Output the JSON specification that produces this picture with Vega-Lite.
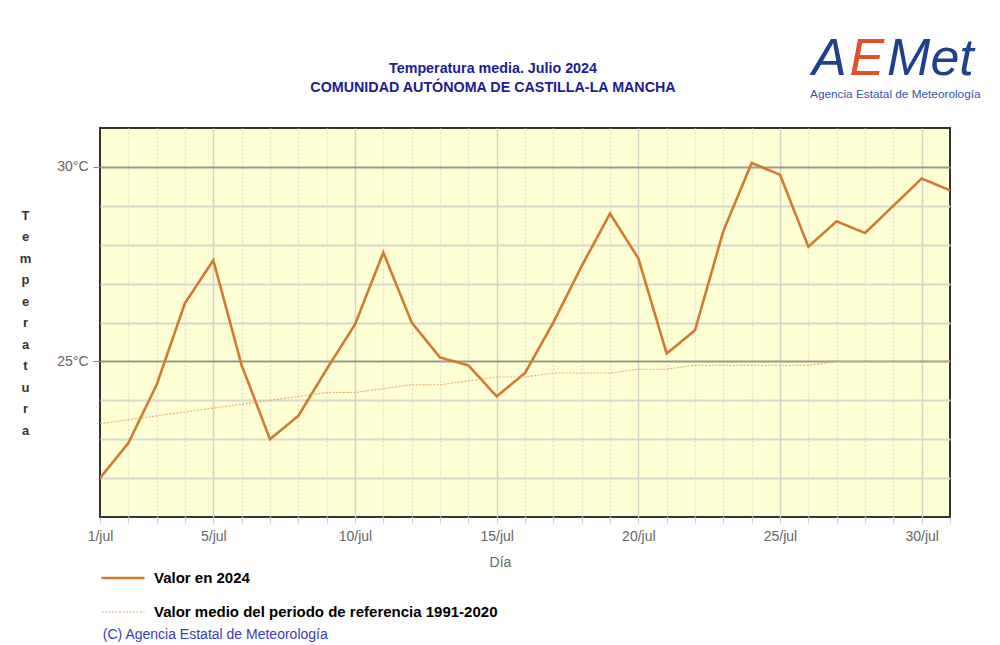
{
  "$schema": "https://vega.github.io/schema/vega-lite/v6.json",
  "width": 850,
  "height": 389,
  "autosize": {"type": "none"},
  "padding": {"left": 100, "top": 128, "right": 50, "bottom": 128},
  "background": "white",
  "config": {
    "view": {"fill": "#FFFFD6", "stroke": "#333333", "strokeWidth": 2},
    "font": "Liberation Sans"
  },
  "title": {
    "text": "Temperatura media. Julio 2024",
    "subtitle": "COMUNIDAD AUTÓNOMA DE CASTILLA-LA MANCHA",
    "font": "Liberation Sans",
    "fontSize": 14.3,
    "fontWeight": "bold",
    "color": "#1c1c96",
    "subtitleFont": "Liberation Sans",
    "subtitleFontSize": 14.3,
    "subtitleFontWeight": "bold",
    "subtitleColor": "#1c1c96",
    "subtitlePadding": 5,
    "anchor": "middle",
    "dx": -32,
    "offset": -62
  },
  "datasets": {
    "temps": [
      {"dia": 1, "serie": "Valor en 2024", "temp": 22.0},
      {"dia": 2, "serie": "Valor en 2024", "temp": 22.9},
      {"dia": 3, "serie": "Valor en 2024", "temp": 24.4},
      {"dia": 4, "serie": "Valor en 2024", "temp": 26.5},
      {"dia": 5, "serie": "Valor en 2024", "temp": 27.6},
      {"dia": 6, "serie": "Valor en 2024", "temp": 24.9},
      {"dia": 7, "serie": "Valor en 2024", "temp": 23.0},
      {"dia": 8, "serie": "Valor en 2024", "temp": 23.6},
      {"dia": 9, "serie": "Valor en 2024", "temp": 24.8},
      {"dia": 10, "serie": "Valor en 2024", "temp": 25.95},
      {"dia": 11, "serie": "Valor en 2024", "temp": 27.8},
      {"dia": 12, "serie": "Valor en 2024", "temp": 26.0},
      {"dia": 13, "serie": "Valor en 2024", "temp": 25.1},
      {"dia": 14, "serie": "Valor en 2024", "temp": 24.9},
      {"dia": 15, "serie": "Valor en 2024", "temp": 24.1},
      {"dia": 16, "serie": "Valor en 2024", "temp": 24.7},
      {"dia": 17, "serie": "Valor en 2024", "temp": 26.0},
      {"dia": 18, "serie": "Valor en 2024", "temp": 27.45},
      {"dia": 19, "serie": "Valor en 2024", "temp": 28.8},
      {"dia": 20, "serie": "Valor en 2024", "temp": 27.65},
      {"dia": 21, "serie": "Valor en 2024", "temp": 25.2},
      {"dia": 22, "serie": "Valor en 2024", "temp": 25.8},
      {"dia": 23, "serie": "Valor en 2024", "temp": 28.35},
      {"dia": 24, "serie": "Valor en 2024", "temp": 30.1},
      {"dia": 25, "serie": "Valor en 2024", "temp": 29.8},
      {"dia": 26, "serie": "Valor en 2024", "temp": 27.95},
      {"dia": 27, "serie": "Valor en 2024", "temp": 28.6},
      {"dia": 28, "serie": "Valor en 2024", "temp": 28.3},
      {"dia": 29, "serie": "Valor en 2024", "temp": 29.0},
      {"dia": 30, "serie": "Valor en 2024", "temp": 29.7},
      {"dia": 31, "serie": "Valor en 2024", "temp": 29.4},
      {"dia": 1, "serie": "Valor medio del periodo de referencia 1991-2020", "temp": 23.4},
      {"dia": 2, "serie": "Valor medio del periodo de referencia 1991-2020", "temp": 23.5},
      {"dia": 3, "serie": "Valor medio del periodo de referencia 1991-2020", "temp": 23.6},
      {"dia": 4, "serie": "Valor medio del periodo de referencia 1991-2020", "temp": 23.7},
      {"dia": 5, "serie": "Valor medio del periodo de referencia 1991-2020", "temp": 23.8},
      {"dia": 6, "serie": "Valor medio del periodo de referencia 1991-2020", "temp": 23.9},
      {"dia": 7, "serie": "Valor medio del periodo de referencia 1991-2020", "temp": 24.0},
      {"dia": 8, "serie": "Valor medio del periodo de referencia 1991-2020", "temp": 24.1},
      {"dia": 9, "serie": "Valor medio del periodo de referencia 1991-2020", "temp": 24.2},
      {"dia": 10, "serie": "Valor medio del periodo de referencia 1991-2020", "temp": 24.2},
      {"dia": 11, "serie": "Valor medio del periodo de referencia 1991-2020", "temp": 24.3},
      {"dia": 12, "serie": "Valor medio del periodo de referencia 1991-2020", "temp": 24.4},
      {"dia": 13, "serie": "Valor medio del periodo de referencia 1991-2020", "temp": 24.4},
      {"dia": 14, "serie": "Valor medio del periodo de referencia 1991-2020", "temp": 24.5},
      {"dia": 15, "serie": "Valor medio del periodo de referencia 1991-2020", "temp": 24.6},
      {"dia": 16, "serie": "Valor medio del periodo de referencia 1991-2020", "temp": 24.6},
      {"dia": 17, "serie": "Valor medio del periodo de referencia 1991-2020", "temp": 24.7},
      {"dia": 18, "serie": "Valor medio del periodo de referencia 1991-2020", "temp": 24.7},
      {"dia": 19, "serie": "Valor medio del periodo de referencia 1991-2020", "temp": 24.7},
      {"dia": 20, "serie": "Valor medio del periodo de referencia 1991-2020", "temp": 24.8},
      {"dia": 21, "serie": "Valor medio del periodo de referencia 1991-2020", "temp": 24.8},
      {"dia": 22, "serie": "Valor medio del periodo de referencia 1991-2020", "temp": 24.9},
      {"dia": 23, "serie": "Valor medio del periodo de referencia 1991-2020", "temp": 24.9},
      {"dia": 24, "serie": "Valor medio del periodo de referencia 1991-2020", "temp": 24.9},
      {"dia": 25, "serie": "Valor medio del periodo de referencia 1991-2020", "temp": 24.9},
      {"dia": 26, "serie": "Valor medio del periodo de referencia 1991-2020", "temp": 24.9},
      {"dia": 27, "serie": "Valor medio del periodo de referencia 1991-2020", "temp": 25.0},
      {"dia": 28, "serie": "Valor medio del periodo de referencia 1991-2020", "temp": 25.0},
      {"dia": 29, "serie": "Valor medio del periodo de referencia 1991-2020", "temp": 25.0},
      {"dia": 30, "serie": "Valor medio del periodo de referencia 1991-2020", "temp": 25.0},
      {"dia": 31, "serie": "Valor medio del periodo de referencia 1991-2020", "temp": 25.0}
    ],
    "notes": [
      {"id": "copy", "texto": "(C) Agencia Estatal de Meteorología", "dia": 1.1, "temp": 17.97},
      {"id": "A", "texto": "A", "dia": 26.13, "temp": 32.35},
      {"id": "E", "texto": "E", "dia": 27.45, "temp": 32.35},
      {"id": "Met", "texto": "Met", "dia": 28.78, "temp": 32.35},
      {"id": "agencia", "texto": "Agencia Estatal de Meteorología", "dia": 26.06, "temp": 31.88}
    ]
  },
  "encoding": {
    "x": {
      "field": "dia",
      "type": "quantitative",
      "scale": {"domain": [1, 31], "nice": false, "zero": false},
      "axis": {
        "values": [1,2,3,4,5,6,7,8,9,10,11,12,13,14,15,16,17,18,19,20,21,22,23,24,25,26,27,28,29,30,31],
        "labelExpr": "datum.value === 1 || datum.value % 5 === 0 ? datum.value + '/jul' : ''",
        "labelFlush": false,
        "labelOverlap": false,
        "domain": false,
        "grid": true,
        "gridColor": {"condition": {"test": "datum.value % 5 === 0", "value": "#d2d2c6"}, "value": "#deded0"},
        "gridDash": {"condition": {"test": "datum.value % 5 === 0", "value": []}, "value": [2, 2]},
        "gridOpacity": {"condition": {"test": "datum.value === 1 || datum.value === 31", "value": 0}, "value": 1},
        "gridWidth": 1.5,
        "tickColor": "#cfcfcf",
        "tickSize": 6,
        "tickWidth": 1,
        "labelColor": "#666666",
        "labelFontSize": 14,
        "labelPadding": 6,
        "labelFont": "Liberation Sans",
        "title": "Día",
        "titleColor": "#666666",
        "titleFontWeight": "normal",
        "titleFontSize": 14,
        "titleFont": "Liberation Sans",
        "titlePadding": 12,
        "titleX": 400
      }
    },
    "y": {
      "field": "temp",
      "type": "quantitative",
      "scale": {"domain": [21, 31], "nice": false, "zero": false},
      "axis": {
        "values": [21,22,23,24,25,26,27,28,29,30,31],
        "labelExpr": "datum.value % 5 === 0 ? datum.value + '°C' : ''",
        "domain": false,
        "grid": true,
        "gridColor": {"condition": {"test": "datum.value % 5 === 0", "value": "#9a9a8c"}, "value": "#d8d8cc"},
        "gridOpacity": {"condition": {"test": "datum.value === 21 || datum.value === 31", "value": 0}, "value": 1},
        "gridWidth": 2,
        "tickColor": "#888888",
        "tickOpacity": {"condition": {"test": "datum.value % 5 === 0", "value": 1}, "value": 0},
        "tickSize": 7,
        "labelColor": "#666666",
        "labelFontSize": 14,
        "labelPadding": 5,
        "labelFont": "Liberation Sans",
        "title": ["T","e","m","p","e","r","a","t","u","r","a"],
        "titleAngle": 0,
        "titleX": -75,
        "titleY": 87,
        "titleAlign": "center",
        "titleBaseline": "middle",
        "titleFontWeight": "bold",
        "titleFontSize": 13,
        "titleFont": "Liberation Sans",
        "titleColor": "#333333",
        "titleLineHeight": 21.5
      }
    }
  },
  "layer": [
    {
      "data": {"name": "temps"},
      "mark": {"type": "line", "clip": true},
      "encoding": {
        "color": {
          "field": "serie",
          "type": "nominal",
          "scale": {
            "domain": ["Valor en 2024", "Valor medio del periodo de referencia 1991-2020"],
            "range": ["#d07a30", "#e2ac6c"]
          },
          "legend": {
            "title": null,
            "orient": "none",
            "legendX": 0,
            "legendY": 434,
            "padding": 0,
            "symbolType": "stroke",
            "symbolSize": 1849,
            "symbolStrokeWidth": 2.5,
            "labelFont": "Liberation Sans",
            "labelFontSize": 15,
            "labelFontWeight": "bold",
            "labelColor": "#000000",
            "labelOffset": 8,
            "labelLimit": 600,
            "rowPadding": 2,
            "clipHeight": 32
          }
        },
        "strokeDash": {
          "field": "serie",
          "type": "nominal",
          "scale": {
            "domain": ["Valor en 2024", "Valor medio del periodo de referencia 1991-2020"],
            "range": [[1, 0], [2, 1.5]]
          },
          "legend": {
            "title": null,
            "orient": "none",
            "legendX": 0,
            "legendY": 434,
            "padding": 0,
            "symbolType": "stroke",
            "symbolSize": 1849,
            "symbolStrokeWidth": 2.5,
            "labelFont": "Liberation Sans",
            "labelFontSize": 15,
            "labelFontWeight": "bold",
            "labelColor": "#000000",
            "labelOffset": 8,
            "labelLimit": 600,
            "rowPadding": 2,
            "clipHeight": 32
          }
        },
        "strokeWidth": {
          "field": "serie",
          "type": "nominal",
          "scale": {
            "domain": ["Valor en 2024", "Valor medio del periodo de referencia 1991-2020"],
            "range": [2.6, 1.1]
          },
          "legend": null
        }
      }
    },
    {
      "data": {"name": "notes"},
      "transform": [{"filter": "datum.id === 'copy'"}],
      "mark": {"type": "text", "align": "left", "baseline": "middle", "font": "Liberation Sans", "fontSize": 14, "color": "#3c3cb4"},
      "encoding": {"text": {"field": "texto"}}
    },
    {
      "data": {"name": "notes"},
      "transform": [{"filter": "datum.id === 'A' || datum.id === 'Met'"}],
      "mark": {"type": "text", "align": "left", "baseline": "alphabetic", "font": "Liberation Sans", "fontSize": 52, "fontStyle": "italic", "color": "#1f3f8f"},
      "encoding": {"text": {"field": "texto"}}
    },
    {
      "data": {"name": "notes"},
      "transform": [{"filter": "datum.id === 'E'"}],
      "mark": {"type": "text", "align": "left", "baseline": "alphabetic", "font": "Liberation Sans", "fontSize": 52, "fontStyle": "italic", "color": "#e0502a"},
      "encoding": {"text": {"field": "texto"}}
    },
    {
      "data": {"name": "notes"},
      "transform": [{"filter": "datum.id === 'agencia'"}],
      "mark": {"type": "text", "align": "left", "baseline": "middle", "font": "Liberation Sans", "fontSize": 11.8, "color": "#3355a5"},
      "encoding": {"text": {"field": "texto"}}
    }
  ]
}
